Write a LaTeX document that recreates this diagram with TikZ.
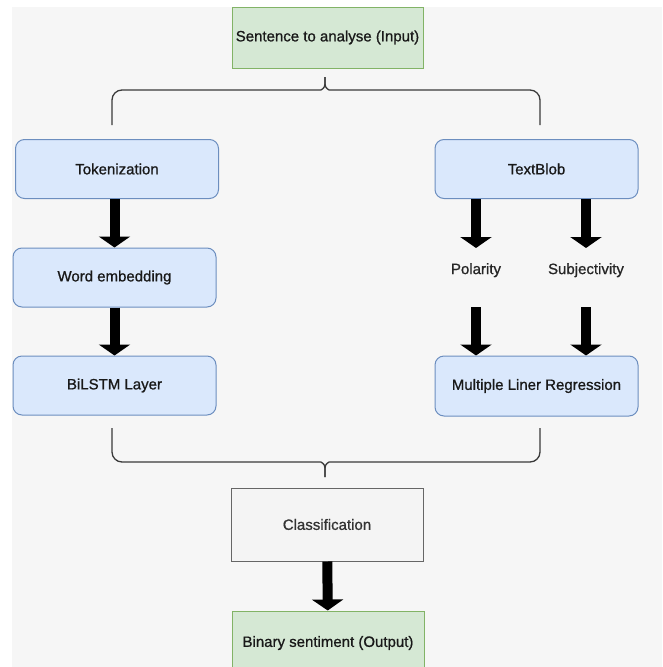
\documentclass[tikz,border=0pt]{standalone}
\usepackage{fontspec}
\setmainfont{Liberation Sans}[FakeBold=0.9]
\usetikzlibrary{arrows.meta}

\definecolor{bgcol}{HTML}{F6F6F6}
\definecolor{bluefill}{HTML}{DAE8FC}
\definecolor{blueline}{HTML}{6C8EBF}
\definecolor{greenfill}{HTML}{D5E8D4}
\definecolor{greenline}{HTML}{82B366}
\definecolor{grayfill}{HTML}{F4F4F4}
\definecolor{grayline}{HTML}{666666}
\definecolor{graytext}{HTML}{333333}
\definecolor{bracecol}{HTML}{3A3A3A}

\tikzset{
  bluebox/.style={draw=blueline, fill=bluefill, line width=1pt, rounded corners=9pt, minimum width=203pt, minimum height=59pt, inner sep=0pt, text=black!90},
  greenbox/.style={draw=greenline, fill=greenfill, line width=1pt, minimum width=191pt, minimum height=61pt, inner sep=0pt, text=black!90},
  graybox/.style={draw=grayline, fill=grayfill, line width=1pt, minimum width=192pt, minimum height=73pt, inner sep=0pt, text=graytext},
  plainlabel/.style={inner sep=0pt, minimum height=44pt, text=black!85},
  fatarrow/.style={line width=10pt, -{Triangle[width=31pt, length=11pt]}},
  bracket/.style={draw=bracecol, line width=1.3pt}
}

\begin{document}
\begin{tikzpicture}[x=1pt, y=-1pt, font=\fontsize{15}{18}\selectfont]

\useasboundingbox (0,0) rectangle (662,667);
\clip (0,0) rectangle (662,667);
\fill[bgcol] (12,7) rectangle (662,667);

% input / output
\node[greenbox] (input) at (327.5,37.5) {Sentence to analyse (Input)};
\node[graybox] (classif) at (327,524.5) {Classification};
\node[greenbox, minimum width=192pt, minimum height=64pt] (output) at (328,643) {Binary sentiment (Output)};

% left branch
\node[bluebox] (tok) at (117,169) {Tokenization};
\node[bluebox] (word-emb) at (114.5,277.5) {Word embedding};
\node[bluebox] (bilstm) at (114.5,385.5) {BiLSTM Layer};

% right branch
\node[bluebox] (text-blob) at (536.5,169) {TextBlob};
\node[plainlabel, anchor=north] (polarity) at (476,248) {Polarity};
\node[plainlabel, anchor=north] (subjectivity) at (586,248) {Subjectivity};
\node[bluebox, minimum height=60pt] (mlr) at (536.5,386) {Multiple Liner Regression};

% braces
\draw[bracket] (112,125) [rounded corners=10pt] -- (112,90) -- (311,90) [sharp corners] .. controls (320,90) and (325,89) .. (325,84) -- (325,77);
\draw[bracket] (540,125) [rounded corners=10pt] -- (540,90) -- (339,90) [sharp corners] .. controls (330,90) and (325,89) .. (325,84) -- (325,77);
\draw[bracket] (112,428) [rounded corners=10pt] -- (112,462) -- (311,462) [sharp corners] .. controls (320,462) and (325,463) .. (325,468) -- (325,477);
\draw[bracket] (540,428) [rounded corners=10pt] -- (540,462) -- (339,462) [sharp corners] .. controls (330,462) and (325,463) .. (325,468) -- (325,477);

% arrows
\draw[fatarrow] (tok.south -| word-emb) -- (word-emb.north);
\draw[fatarrow] (word-emb) -- (bilstm);
\draw[fatarrow] (text-blob.south -| polarity) -- (polarity.north);
\draw[fatarrow] (text-blob.south -| subjectivity) -- (subjectivity.north);
\draw[fatarrow, shorten <=15pt] (polarity.south) -- (mlr.north -| polarity);
\draw[fatarrow, shorten <=15pt] (subjectivity.south) -- (mlr.north -| subjectivity);
\draw[fatarrow] (classif) -- (output);

\end{tikzpicture}
\end{document}
